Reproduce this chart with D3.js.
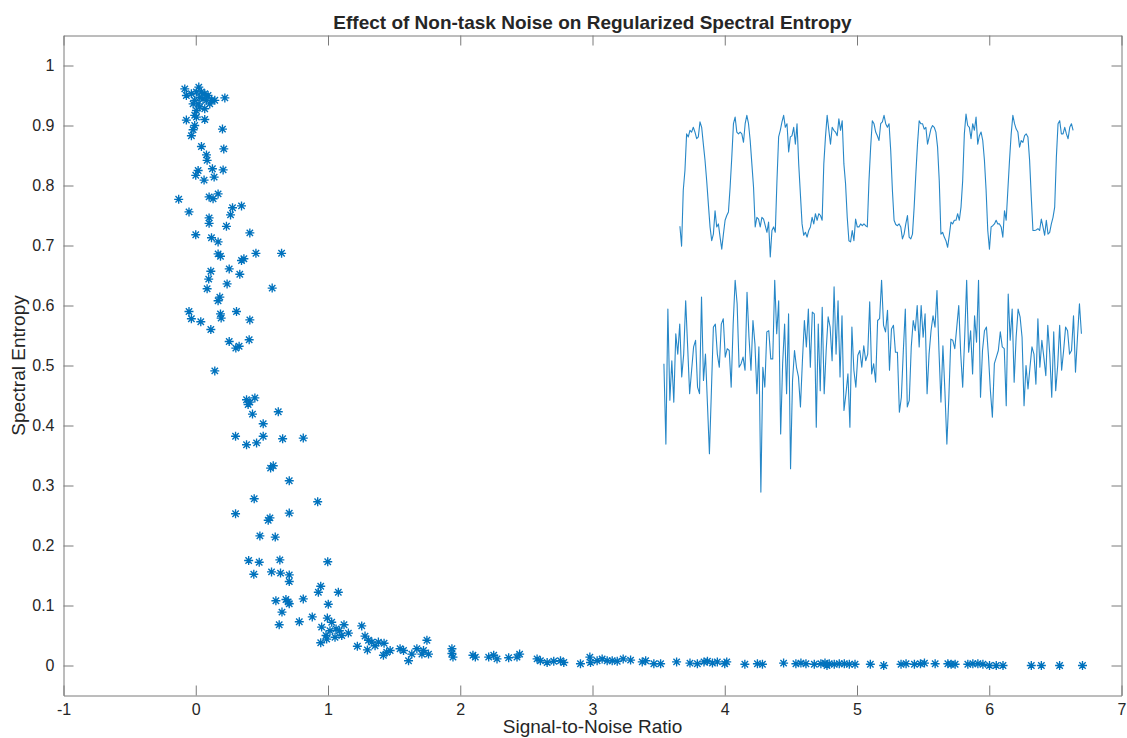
<!DOCTYPE html>
<html>
<head>
<meta charset="utf-8">
<script src="https://cdn.jsdelivr.net/npm/d3@7"></script>
<style>
  body { margin: 0; background: #fff; }
  svg { display: block; }
  text { font-family: "Liberation Sans", Arial, Helvetica, sans-serif; fill: #262626; }
</style>
</head>
<body>
<svg id="chart" width="1127" height="738"></svg>
<script>
// Per-run signal-to-noise ratio and the resulting regularized spectral entropy
const snr = [
  -0.083, 0.023, -0.071, -0.033, 0.005, 0.043, 0.068, 0.093, 0.030, -0.008,
  0.055, 0.018, -0.020, 0.081, 0.119, 0.144, 0.106, 0.030, 0.068, 0.005,
  0.220, -0.008, -0.071, 0.005, 0.068, -0.008, -0.020, -0.033, 0.202, 0.043,
  0.212, 0.081, 0.086, 0.126, 0.207, 0.018, 0.000, 0.063, 0.139, 0.169,
  0.101, 0.131, -0.129, -0.051, 0.101, 0.101, 0.278, 0.263, 0.346, 0.232,
  0.409, 0.000, 0.119, 0.169, 0.169, 0.187, 0.346, 0.364, 0.455, 0.649,
  0.114, 0.253, 0.333, 0.098, 0.086, 0.237, 0.578, 0.182,
  0.169, -0.051, -0.033, 0.038, 0.187, 0.192, 0.308, 0.409, 0.114, 0.253,
  0.404, 0.303, 0.328, 0.144, 0.384, 0.409, 0.447, 0.396, 0.429, 0.624,
  0.510, 0.301, 0.384, 0.460, 0.510, 0.657, 0.813, 0.566, 0.586, 0.707,
  0.442, 0.922, 0.301, 0.707, 0.548, 0.561, 0.485, 0.601,
  0.400, 0.480, 0.439, 0.636, 0.573, 0.641, 0.707, 0.707, 0.998, 0.606,
  0.682, 0.699, 0.707, 0.813, 0.652, 0.631, 0.783, 0.881, 0.945, 0.927,
  1.078, 1.002, 0.995, 0.952, 1.028, 0.985, 0.945, 1.015, 1.061, 1.086,
  1.121, 1.104, 1.053, 1.154, 0.990, 1.255, 1.222, 1.280, 1.306, 1.331,
  1.298, 1.356, 1.381, 1.424, 1.419, 1.444, 1.470, 1.545, 1.571, 1.609,
  1.634, 1.672, 1.710, 1.722, 1.748, 1.760, 1.937, 1.937, 1.945, 2.096,
  2.114, 2.215, 2.253, 2.278, 2.366, 2.429, 2.449, 2.581, 2.606, 2.657,
  2.707, 2.758, 2.783, 2.909, 2.980, 2.985, 3.035,
  3.073, 3.111, 3.149, 3.187, 3.232, 3.288, 3.376, 3.402, 3.464, 3.515,
  3.636, 3.737, 3.793, 3.843, 3.869, 3.907, 3.944, 4.000, 4.015, 4.152,
  4.247, 4.285, 4.445, 4.538, 4.576, 4.614, 4.677, 4.727, 4.758, 4.773,
  4.790, 4.828, 4.866, 4.904, 4.942, 4.985, 5.101, 5.202, 5.333, 5.371,
  5.434, 5.480, 5.510, 5.591, 5.687, 5.712, 5.742, 5.838, 5.876, 5.914,
  5.952, 6.002, 6.053, 6.104, 6.318, 6.394, 6.532, 6.705
];
const entropy = [
  0.961, 0.964, 0.950, 0.953, 0.956, 0.956, 0.953, 0.950, 0.947, 0.942,
  0.944, 0.936, 0.936, 0.942, 0.942, 0.942, 0.936, 0.931, 0.928, 0.925,
  0.946, 0.917, 0.909, 0.914, 0.910, 0.900, 0.893, 0.883, 0.894, 0.865,
  0.861, 0.851, 0.842, 0.828, 0.826, 0.825, 0.817, 0.809, 0.814, 0.786,
  0.781, 0.778, 0.777, 0.756, 0.746, 0.737, 0.763, 0.751, 0.766, 0.732,
  0.721, 0.718, 0.713, 0.706, 0.686, 0.682, 0.675, 0.678, 0.687, 0.687,
  0.657, 0.661, 0.652, 0.644, 0.628, 0.636, 0.629, 0.614,
  0.608, 0.590, 0.578, 0.573, 0.586, 0.579, 0.590, 0.576, 0.560, 0.540,
  0.543, 0.529, 0.532, 0.491, 0.443, 0.439, 0.446, 0.435, 0.419, 0.423,
  0.403, 0.382, 0.368, 0.371, 0.382, 0.378, 0.379, 0.329, 0.333, 0.308,
  0.278, 0.273, 0.253, 0.254, 0.242, 0.246, 0.216, 0.214,
  0.175, 0.172, 0.152, 0.176, 0.156, 0.154, 0.151, 0.140, 0.173, 0.108,
  0.110, 0.106, 0.103, 0.111, 0.089, 0.068, 0.073, 0.081, 0.132, 0.122,
  0.122, 0.102, 0.079, 0.064, 0.072, 0.050, 0.038, 0.058, 0.061, 0.058,
  0.068, 0.050, 0.047, 0.054, 0.044, 0.066, 0.032, 0.049, 0.042, 0.039,
  0.026, 0.033, 0.039, 0.037, 0.017, 0.022, 0.025, 0.028, 0.025, 0.008,
  0.019, 0.028, 0.019, 0.025, 0.042, 0.019, 0.028, 0.020, 0.014, 0.017,
  0.014, 0.014, 0.017, 0.011, 0.013, 0.014, 0.019, 0.011, 0.008, 0.005,
  0.007, 0.008, 0.005, 0.003, 0.014, 0.005, 0.008,
  0.011, 0.008, 0.008, 0.007, 0.011, 0.009, 0.006, 0.008, 0.003, 0.003,
  0.006, 0.004, 0.003, 0.006, 0.007, 0.004, 0.006, 0.003, 0.006, 0.002,
  0.003, 0.002, 0.004, 0.003, 0.004, 0.003, 0.002, 0.003, 0.004, 0.000,
  0.003, 0.002, 0.003, 0.003, 0.002, 0.002, 0.002, 0.000, 0.002, 0.003,
  0.002, 0.003, 0.004, 0.003, 0.003, 0.002, 0.002, 0.002, 0.003, 0.003,
  0.002, 0.000, 0.000, 0.000, 0.000, 0.000, 0.000, 0.000
];

// Example time courses shown inside the axes (values in axis units)
const taskTrace = [
  0.732, 0.699, 0.792, 0.825, 0.886, 0.881, 0.892, 0.889, 0.897, 0.889,
  0.878, 0.881, 0.906, 0.897, 0.869, 0.842, 0.808, 0.769, 0.731, 0.708,
  0.719, 0.758, 0.731, 0.736, 0.714, 0.694, 0.719, 0.742, 0.750, 0.756,
  0.797, 0.847, 0.903, 0.914, 0.889, 0.886, 0.889, 0.886, 0.872, 0.903,
  0.917, 0.903, 0.875, 0.836, 0.797, 0.731, 0.747, 0.744, 0.731, 0.747,
  0.744, 0.733, 0.722, 0.739, 0.681, 0.725, 0.731, 0.722, 0.808, 0.881,
  0.892, 0.906, 0.917, 0.897, 0.903, 0.856, 0.881, 0.883, 0.897, 0.869,
  0.903, 0.836, 0.786, 0.736, 0.717, 0.722, 0.714, 0.725, 0.731, 0.747,
  0.736, 0.753, 0.742, 0.753, 0.750, 0.742, 0.836, 0.881, 0.917, 0.892,
  0.869, 0.897, 0.892, 0.889, 0.883, 0.911, 0.892, 0.908, 0.836, 0.803,
  0.747, 0.708, 0.706, 0.725, 0.708, 0.744, 0.731, 0.731, 0.736, 0.733,
  0.736, 0.733, 0.731, 0.808, 0.864, 0.908, 0.903, 0.889, 0.883, 0.875,
  0.903, 0.906, 0.917, 0.903, 0.897, 0.903, 0.858, 0.792, 0.742,
  0.735, 0.733, 0.736, 0.731, 0.711, 0.719, 0.736, 0.750, 0.714, 0.711,
  0.719, 0.764, 0.819, 0.869, 0.908, 0.903, 0.903, 0.894, 0.897, 0.869,
  0.881, 0.894, 0.900, 0.897, 0.889, 0.864, 0.808, 0.719, 0.722, 0.714,
  0.708, 0.697, 0.717, 0.739, 0.736, 0.742, 0.742, 0.753, 0.742, 0.764,
  0.808, 0.886, 0.919, 0.900, 0.897, 0.878, 0.903, 0.892, 0.914, 0.869,
  0.883, 0.889, 0.875, 0.842, 0.792, 0.725, 0.694, 0.731, 0.733, 0.736,
  0.742, 0.736, 0.736, 0.731, 0.714, 0.758, 0.742, 0.792, 0.842, 0.886,
  0.917, 0.903, 0.894, 0.889, 0.864, 0.875, 0.872, 0.883, 0.886, 0.881,
  0.842, 0.781, 0.725, 0.725, 0.726, 0.728, 0.725, 0.744, 0.731, 0.717,
  0.742, 0.719, 0.722, 0.736, 0.747, 0.764, 0.847, 0.903, 0.908, 0.886,
  0.886, 0.897, 0.886, 0.878, 0.897, 0.903, 0.892
];
const taskTraceSpan = [3.661, 6.634];

const noiseTrace = [
  0.503, 0.369, 0.594, 0.442, 0.508, 0.439, 0.553, 0.519, 0.569, 0.481,
  0.519, 0.608, 0.531, 0.453, 0.492, 0.531, 0.542, 0.464, 0.453, 0.614,
  0.475, 0.519, 0.436, 0.353, 0.458, 0.564, 0.569, 0.519, 0.497, 0.569,
  0.578, 0.514, 0.528, 0.525, 0.464, 0.569, 0.642, 0.603, 0.497, 0.503,
  0.514, 0.492, 0.622, 0.547, 0.492, 0.575, 0.536, 0.453, 0.531, 0.289,
  0.497, 0.464, 0.556, 0.558, 0.511, 0.511, 0.642, 0.553, 0.608, 0.386,
  0.503, 0.569, 0.453, 0.586, 0.328, 0.475, 0.525, 0.497, 0.481, 0.431,
  0.508, 0.575, 0.531, 0.594, 0.497, 0.589, 0.586, 0.397, 0.569, 0.458,
  0.597, 0.453, 0.525, 0.581, 0.564, 0.508, 0.631, 0.519, 0.608, 0.481,
  0.583, 0.425, 0.453, 0.486, 0.397, 0.564, 0.492, 0.464, 0.517, 0.525,
  0.497, 0.533, 0.508, 0.519, 0.606, 0.486, 0.503, 0.472, 0.575, 0.578,
  0.642, 0.567, 0.556, 0.592, 0.492, 0.561, 0.567, 0.522, 0.522,
  0.422, 0.447, 0.525, 0.594, 0.431, 0.442, 0.531, 0.575, 0.558, 0.600,
  0.531, 0.600, 0.547, 0.586, 0.453, 0.519, 0.558, 0.583, 0.564, 0.625,
  0.525, 0.439, 0.533, 0.458, 0.369, 0.447, 0.544, 0.542, 0.528, 0.564,
  0.600, 0.519, 0.464, 0.547, 0.642, 0.522, 0.558, 0.486, 0.583, 0.539,
  0.642, 0.447, 0.525, 0.558, 0.564, 0.517, 0.458, 0.414, 0.503, 0.514,
  0.525, 0.556, 0.531, 0.528, 0.433, 0.619, 0.542, 0.594, 0.472, 0.547,
  0.594, 0.581, 0.547, 0.433, 0.500, 0.461, 0.497, 0.531, 0.519, 0.469,
  0.578, 0.497, 0.542, 0.514, 0.483, 0.567, 0.519, 0.447, 0.556, 0.458,
  0.500, 0.567, 0.492, 0.525, 0.564, 0.558, 0.519, 0.525, 0.583, 0.489,
  0.547, 0.603, 0.553
];
const noiseTraceSpan = [3.540, 6.697];

const xTicks = [-1, 0, 1, 2, 3, 4, 5, 6, 7];
const yTicks = [0, 0.1, 0.2, 0.3, 0.4, 0.5, 0.6, 0.7, 0.8, 0.9, 1];
const xTickLabels = ["-1", "0", "1", "2", "3", "4", "5", "6", "7"];
const yTickLabels = ["0", "0.1", "0.2", "0.3", "0.4", "0.5", "0.6", "0.7", "0.8", "0.9", "1"];

const titleText = "Effect of Non-task Noise on Regularized Spectral Entropy";
const xLabelText = "Signal-to-Noise Ratio";
const yLabelText = "Spectral Entropy";

// ---- layout ----
const plot = { left: 63.5, right: 1121.5, top: 35.5, bottom: 695.5 };
const blue = "#0072BD";
const axisColor = "#7a7a7a";

const svg = d3.select("#chart");

const x = d3.scaleLinear().domain([-1, 7]).range([plot.left, plot.right]);
const y = d3.scaleLinear().domain([-0.05, 1.05]).range([plot.bottom, plot.top]);

function styleAxis(g) {
  g.select(".domain").attr("stroke", axisColor).attr("stroke-width", 1);
  g.selectAll(".tick line").attr("stroke", axisColor).attr("stroke-width", 1);
  g.selectAll(".tick text")
    .attr("fill", "#262626")
    .style("font-family", '"Liberation Sans", Arial, Helvetica, sans-serif')
    .style("font-size", "16px");
}

// bottom axis with labels, ticks pointing inward
svg.append("g")
  .attr("transform", `translate(0,${plot.bottom})`)
  .call(d3.axisBottom(x).tickValues(xTicks)
    .tickFormat((d, i) => xTickLabels[i])
    .tickSizeInner(-10).tickSizeOuter(0).tickPadding(8))
  .call(styleAxis);

// top edge of the box
svg.append("g")
  .attr("transform", `translate(0,${plot.top})`)
  .call(d3.axisTop(x).tickValues(xTicks).tickFormat("")
    .tickSizeInner(-10).tickSizeOuter(0))
  .call(styleAxis);

// left axis with labels
svg.append("g")
  .attr("transform", `translate(${plot.left},0)`)
  .call(d3.axisLeft(y).tickValues(yTicks)
    .tickFormat((d, i) => yTickLabels[i])
    .tickSizeInner(-10).tickSizeOuter(0).tickPadding(9))
  .call(styleAxis);

// right edge of the box
svg.append("g")
  .attr("transform", `translate(${plot.right},0)`)
  .call(d3.axisRight(y).tickValues(yTicks).tickFormat("")
    .tickSizeInner(-10).tickSizeOuter(0))
  .call(styleAxis);

// ---- example time courses ----
function traceLine(values, span) {
  const t = d3.scaleLinear().domain([0, values.length - 1]).range(span);
  return d3.line()
    .x((d, i) => x(t(i)))
    .y(d => y(d))(values);
}

const traces = svg.append("g").attr("fill", "none")
  .attr("stroke", blue).attr("stroke-width", 1.1)
  .attr("stroke-opacity", 0.85).attr("stroke-linejoin", "round");
traces.append("path").attr("d", traceLine(taskTrace, taskTraceSpan));
traces.append("path").attr("d", traceLine(noiseTrace, noiseTraceSpan));

// ---- scatter of asterisk markers ----
const asterisk = "M-4.5,0H4.5M0,-4.5V4.5M-3.2,-3.2L3.2,3.2M-3.2,3.2L3.2,-3.2";
svg.append("g")
  .selectAll("path")
  .data(d3.range(snr.length))
  .join("path")
  .attr("transform", i => `translate(${x(snr[i])},${y(entropy[i])})`)
  .attr("d", asterisk)
  .attr("fill", "none")
  .attr("stroke", blue)
  .attr("stroke-width", 1.35);

// ---- titles ----
svg.append("text")
  .attr("x", (plot.left + plot.right) / 2)
  .attr("y", 29)
  .attr("text-anchor", "middle")
  .style("font-size", "19px")
  .style("font-weight", "bold")
  .text(titleText);

svg.append("text")
  .attr("x", (plot.left + plot.right) / 2)
  .attr("y", 733)
  .attr("text-anchor", "middle")
  .style("font-size", "19px")
  .text(xLabelText);

svg.append("text")
  .attr("transform", `translate(25,${(plot.top + plot.bottom) / 2}) rotate(-90)`)
  .attr("text-anchor", "middle")
  .style("font-size", "19px")
  .text(yLabelText);
</script>
</body>
</html>
